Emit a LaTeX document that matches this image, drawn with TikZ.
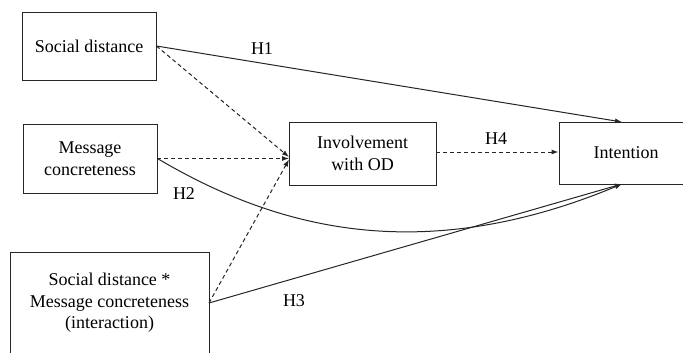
\documentclass[tikz,border=0pt]{standalone}
\usepackage{fontspec}
\setmainfont{Liberation Serif}
\usetikzlibrary{arrows.meta}
\begin{document}
\begin{tikzpicture}[x=1pt,y=-1pt,
  box/.style={draw=black!85,line width=0.9pt,rectangle,inner sep=0pt,align=center,
    font=\fontsize{18}{21.5}\selectfont},
  lbl/.style={font=\fontsize{18}{21.5}\selectfont,inner sep=0pt},
  solidarr/.style={draw=black!85,line width=1pt,-{Latex[length=7pt,width=5pt]}},
  dasharr/.style={draw=black!85,line width=1pt,dash pattern=on 4pt off 3pt,-{Latex[length=7pt,width=5pt]}}]
\useasboundingbox (0,0) rectangle (683,353);
\clip (0,0) rectangle (683,353);
\fill[white] (0,0) rectangle (683,353);
% boxes
\node[box,minimum width=134pt,minimum height=68pt] (sd) at (89,46) {Social distance};
\node[box,minimum width=134pt,minimum height=69pt] (mc) at (90,158.5) {Message\\concreteness};
\node[box,minimum width=147pt,minimum height=63pt] (inv) at (362.5,153.5) {Involvement\\with OD};
\node[box,minimum width=134pt,minimum height=62pt] (intn) at (626,153) {Intention};
\node[box,minimum width=199pt,minimum height=128pt] (ia) at (109.5,316) {};
\node[lbl,align=center] (iatext) at (109.5,303) {Social distance *\\Message concreteness\\(interaction)};
% attachment coordinates
\coordinate (sdE) at (sd.east);
\coordinate (mcE) at (mc.east);
\coordinate (iaE) at (209,303);
\coordinate (invWa) at (289,157);
\coordinate (invWb) at (289,158.5);
\coordinate (invWc) at (289,159.5);
\coordinate (intTop) at (622,122);
\coordinate (intBot) at (622,184);
\coordinate (invE) at (inv.east |- 0,152);
\coordinate (intW) at (intn.west |- 0,152);
% connectors
\draw[solidarr] (sdE) -- (intTop);
\draw[dasharr] (sdE) -- (invWa);
\draw[dasharr] (mcE) -- (invWb);
\draw[dasharr] (iaE) -- (invWc);
\draw[solidarr] (mcE) .. controls (275,228) and (420,268) .. (intBot);
\draw[solidarr] (iaE) -- (intBot);
\draw[dasharr] (invE) -- (intW);
% labels
\node[lbl] (h1) at (262,49) {H1};
\node[lbl] (h2) at (184,194) {H2};
\node[lbl] (h3) at (294,301) {H3};
\node[lbl] (h4) at (496,139) {H4};
\end{tikzpicture}
\end{document}
